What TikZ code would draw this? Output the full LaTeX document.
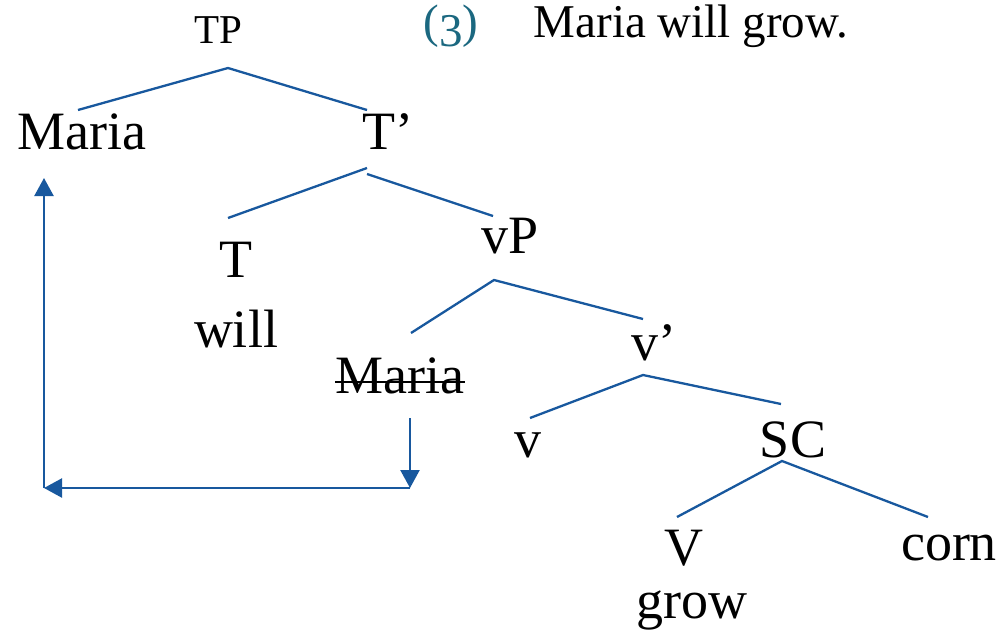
\documentclass[tikz,border=0pt]{standalone}
\usepackage{fontspec}
\setmainfont{Liberation Serif}
\usetikzlibrary{arrows.meta,calc}
\definecolor{branchblue}{RGB}{24,88,158}
\definecolor{exteal}{RGB}{27,104,128}
\tikzset{
  lab/.style={anchor=base,inner sep=0pt,font=\fontsize{54}{60}\selectfont},
  small/.style={anchor=base,inner sep=0pt,font=\fontsize{41}{46}\selectfont},
  sentence/.style={anchor=base,inner sep=0pt,font=\fontsize{47}{52}\selectfont},
  branch/.style={draw=branchblue,line width=2.3pt},
  move/.style={draw=branchblue,line width=2.3pt,-{Triangle[length=18pt,width=19pt]}},
}
\begin{document}
\begin{tikzpicture}[x=1pt,y=-1pt]
\useasboundingbox[fill=white] (0,0) rectangle (1003,635);
% nodes
\node[small] (tp) at (218,43) {TP};
\node[lab] (maria) at (82,149) {Maria};
\node[lab] (tbar) at (388,149) {T’};
\node[lab] (t) at (236,277) {T};
\node[lab] (will) at (236,347) {will};
\node[lab] (vp) at (510,253) {vP};
\node[lab] (mariab) at (400,393) {Maria};
\node[lab] (vbar) at (654,360) {v’};
\node[lab] (v) at (528,457) {v};
\node[lab] (sc) at (793,457) {SC};
\node[lab] (V) at (684,565) {V};
\node[lab] (corn) at (949,560) {corn};
\node[lab] (grow) at (692,618) {grow};
\node[sentence,text=exteal] (ex) at (451,37) {(\raisebox{-0.2em}{\scalebox{1.0}{3}})};
\node[sentence] (sent) at (691,37) {Maria will grow.};
% strike-out
\draw[line width=2pt] ($(mariab.base west)+(0,-11)$) -- ($(mariab.base east)+(0,-11)$);
% tree branches
\draw[branch] ($(maria.base)+(-4,-39)$) -- ($(tp.base)+(10,25)$) -- ($(tbar.base)+(-21,-39)$);
\draw[branch] ($(tbar.base)+(-21,19)$) -- ($(t.base)+(-8,-59)$);
\draw[branch] ($(tbar.base)+(-21,25)$) -- ($(vp.base)+(-17,-37)$);
\draw[branch] ($(mariab.base)+(11,-60)$) -- ($(vp.base)+(-16,27)$) -- ($(vbar.base)+(-11,-41)$);
\draw[branch] ($(v.base)+(2,-39)$) -- ($(vbar.base)+(-11,15)$) -- ($(sc.base)+(-12,-53)$);
\draw[branch] ($(V.base)+(-7,-48)$) -- ($(sc.base)+(-11,4)$) -- ($(corn.base)+(-21,-43)$);
% movement arrow
\coordinate (c1) at (410,488);
\coordinate (c2) at (44,488);
\draw[move] ($(mariab.base)+(10,25)$) -- (c1);
\draw[move] (c1) -- (c2);
\draw[move] (c2) -- ($(maria.base)+(-38,29)$);
\end{tikzpicture}
\end{document}
